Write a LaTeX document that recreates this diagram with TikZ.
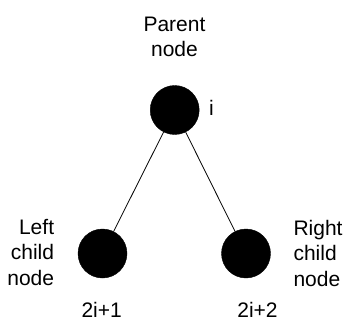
\documentclass[tikz,border=0pt]{standalone}
\usepackage{fontspec}
\setmainfont{Liberation Sans}
\begin{document}
\begin{tikzpicture}[x=1pt,y=-1pt,
  treenode/.style={circle,fill=black,draw=black,minimum size=49pt,inner sep=0pt},
  lbl/.style={inner sep=0pt,font=\fontsize{21}{25.5}\selectfont},
  edge/.style={draw=black,line width=0.8pt}]
\useasboundingbox (0,0) rectangle (345,321);
\node[treenode] (p) at (174.7,110) {};
\node[treenode] (l) at (102.5,253.5) {};
\node[treenode] (r) at (246,253.5) {};
\draw[edge] (p) -- (l);
\draw[edge] (p) -- (r);
\node[lbl,align=center,anchor=north] (pt) at (174.5,16.5) {Parent\\node};
\node[lbl,anchor=base west] (pi) at (209,115) {i};
\node[lbl,align=right,anchor=north east] (lt) at (54.3,219) {Left\\child\\node};
\node[lbl,align=left,anchor=north west] (rt) at (293.3,220) {Right\\child\\node};
\node[lbl,anchor=base] (li) at (101.7,317) {2i+1};
\node[lbl,anchor=base] (ri) at (257.5,317) {2i+2};
\end{tikzpicture}
\end{document}
